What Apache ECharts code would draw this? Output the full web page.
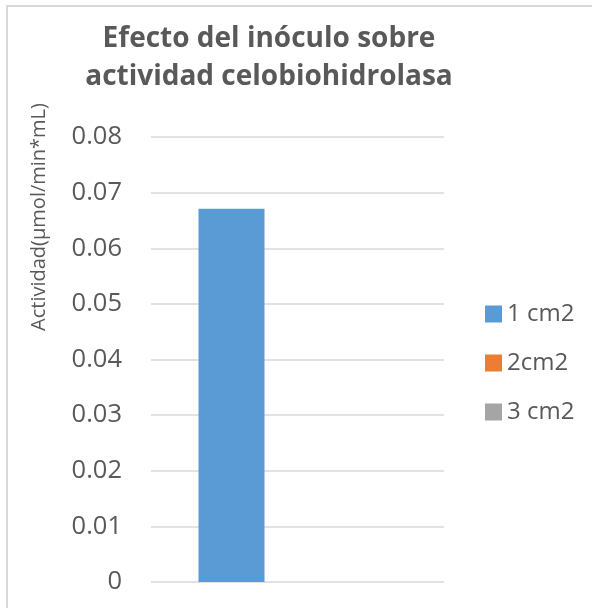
<!DOCTYPE html>
<html>
<head>
<meta charset="utf-8">
<script src="https://cdn.jsdelivr.net/npm/echarts@6/dist/echarts.min.js"></script>
<style>
  html, body { margin: 0; padding: 0; background: #fff; }
  #chart { width: 592px; height: 608px; }
</style>
</head>
<body>
<div id="chart"></div>
<script>
// Enzyme activity by inoculum size
const categories = [''];
const seriesNames = ['1 cm2', '2cm2', '3 cm2'];
const seriesColors = ['#5b9bd5', '#ed7d31', '#a5a5a5'];
const values1cm2 = [0.0671];
const values2cm2 = [0];
const values3cm2 = [0];
const yTicks = [0, 0.01, 0.02, 0.03, 0.04, 0.05, 0.06, 0.07, 0.08];

const seriesValues = [values1cm2, values2cm2, values3cm2];
const textColor = '#595959';
const fontFamily = '"Open Sans", "Noto Sans", sans-serif';

const chart = echarts.init(document.getElementById('chart'), null, { renderer: 'canvas' });

chart.setOption({
  animation: false,
  backgroundColor: '#ffffff',
  title: {
    text: 'Efecto del inóculo sobre\nactividad celobiohidrolasa',
    left: 264,
    top: 15,
    textAlign: 'center',
    textStyle: {
      color: textColor,
      fontFamily: fontFamily,
      fontWeight: 'bold',
      fontSize: 28,
      lineHeight: 38
    }
  },
  graphic: [
    {
      type: 'rect',
      shape: { x: 7, y: 6, width: 640, height: 660 },
      style: { fill: 'none', stroke: '#d9d9d9', lineWidth: 2 },
      silent: true
    },
    {
      type: 'text',
      x: 39,
      y: 217,
      rotation: Math.PI / 2,
      style: {
        text: 'Actividad(µmol/min*mL)',
        fill: textColor,
        font: '20px ' + fontFamily,
        align: 'center',
        verticalAlign: 'middle'
      }
    }
  ],
  legend: {
    orient: 'vertical',
    left: 480,
    top: 297,
    itemWidth: 17,
    itemHeight: 17,
    itemGap: 25,
    icon: 'rect',
    data: seriesNames,
    textStyle: {
      color: textColor,
      fontFamily: fontFamily,
      fontSize: 24,
      padding: [0, 0, 0, 0]
    }
  },
  grid: {
    left: 151,
    top: 137,
    width: 293,
    height: 445,
    containLabel: false
  },
  xAxis: {
    type: 'category',
    data: categories,
    axisLine: { show: false },
    axisTick: { show: false },
    axisLabel: { show: false }
  },
  yAxis: {
    type: 'value',
    min: yTicks[0],
    max: yTicks[yTicks.length - 1],
    interval: 0.01,
    axisLine: { show: false },
    axisTick: { show: false },
    splitLine: { lineStyle: { color: '#d9d9d9', width: 1.5 } },
    axisLabel: {
      color: textColor,
      fontFamily: fontFamily,
      fontSize: 25.5,
      margin: 29,
      formatter: v => String(+v.toFixed(2))
    }
  },
  series: seriesNames.map((name, i) => ({
    name: name,
    type: 'bar',
    data: seriesValues[i],
    barWidth: 66,
    barGap: '0%',
    itemStyle: { color: seriesColors[i] }
  }))
});
</script>
</body>
</html>
